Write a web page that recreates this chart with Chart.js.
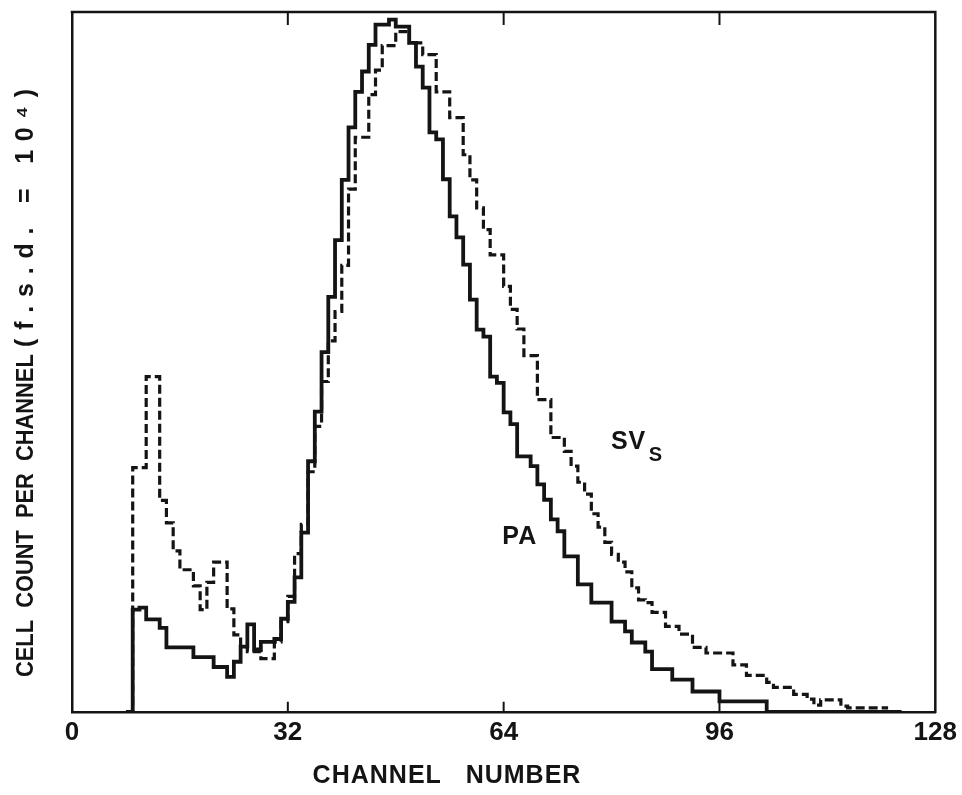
<!DOCTYPE html>
<html>
<head>
<meta charset="utf-8">
<script src="https://cdn.jsdelivr.net/npm/chart.js@4.4.1/dist/chart.umd.min.js"></script>
<style>
  html, body { margin: 0; padding: 0; background: #ffffff; }
  canvas { display: block; }
</style>
</head>
<body>
<canvas id="chart" width="962" height="795"></canvas>
<script>
// Channel of the first value in each count list (one value per channel).
const firstChannel = 8;

// Cell count per channel, PA population (solid histogram).
const paCounts = [
  0, 1460, 1490, 1320, 1320, 1200, 920, 920, 920, 920,          // 8-17
  780, 780, 780, 640, 640, 500, 715, 930, 1250, 890,            // 18-27
  1000, 1000, 1040, 1330, 1570, 1920, 2560, 3580, 4290, 5140,   // 28-37
  5930, 6740, 7600, 8350, 8860, 9150, 9530, 9820, 9820, 9890,   // 38-47
  9790, 9790, 9560, 9220, 8920, 8280, 8180, 7610, 7080, 6780,   // 48-57
  6390, 5890, 5460, 5360, 4790, 4700, 4280, 4110, 3650, 3650,   // 58-67
  3510, 3250, 3030, 2750, 2580, 2220, 2220, 1820, 1820, 1560,   // 68-77
  1560, 1560, 1290, 1290, 1150, 990, 990, 860, 610, 610,        // 78-87
  610, 460, 460, 460, 290, 290, 290, 290, 150, 150,             // 88-97
  150, 150, 150, 150, 150, 0, 0, 0, 0, 0,                       // 98-107
  0, 0, 0, 0, 0, 0, 0, 0, 0, 0,                                 // 108-117
  0, 0, 0, 0, 0                                                 // 118-122
];

// Cell count per channel, SVs population (dashed histogram).
const svCounts = [
  0, 3490, 3490, 4790, 4790, 3020, 2700, 2300, 2030, 2030,      // 8-17
  1800, 1460, 1850, 2140, 2140, 1470, 1100, 930, 860, 860,      // 18-27
  760, 760, 1000, 1290, 1650, 2260, 2680, 3430, 4080, 4720,     // 28-37
  5300, 5720, 6380, 7470, 8210, 8210, 8820, 9170, 9520, 9520,   // 38-47
  9720, 9720, 9560, 9560, 9390, 9390, 8860, 8860, 8490, 8490,   // 48-57
  7960, 7600, 7200, 6890, 6530, 6530, 6080, 5750, 5470, 5090,   // 58-67
  5090, 4460, 4460, 3920, 3920, 3720, 3510, 3280, 3110, 2830,   // 68-77
  2640, 2420, 2250, 2140, 2000, 1770, 1600, 1560, 1420, 1420,   // 78-87
  1220, 1220, 1110, 1110, 920, 920, 840, 840, 840, 840,         // 88-97
  670, 670, 520, 520, 520, 420, 350, 350, 350, 250,             // 98-107
  250, 180, 95, 170, 170, 170, 80, 55, 55, 55,                  // 108-117
  55, 55, 55                                                    // 118-120
];

// Channel axis labels and the full-scale deflection of the count axis.
const xTickValues = [0, 32, 64, 96, 128];
const fullScale = 10000;

const ink = '#141414';
const fontFamily = '"Liberation Sans", Arial, Helvetica, sans-serif';

// Each channel is a bin [n, n+1]; the closing point ends the last bin.
function binPoints(counts) {
  const pts = counts.map((v, i) => ({ x: firstChannel + i, y: v }));
  pts.push({ x: firstChannel + counts.length, y: counts[counts.length - 1] });
  return pts;
}

function drawText(ctx, text, x, y, o) {
  ctx.save();
  ctx.translate(x, y);
  if (o.rotate) ctx.rotate(o.rotate);
  ctx.scale(o.sx || 1, 1);
  ctx.font = 'bold ' + o.size + 'px ' + fontFamily;
  ctx.letterSpacing = (o.spacing || 0) + 'px';
  ctx.textAlign = o.align || 'left';
  ctx.textBaseline = 'alphabetic';
  ctx.fillStyle = ink;
  ctx.fillText(text, 0, 0);
  ctx.restore();
}

// Closes the frame, adds the inward tick marks and writes the labels.
const frameAndLabels = {
  id: 'frameAndLabels',
  afterDraw(chart) {
    const { ctx, chartArea: a, scales } = chart;
    const xs = scales.x, ys = scales.y;
    ctx.save();
    ctx.strokeStyle = ink;
    ctx.lineWidth = 2.5;
    ctx.lineCap = 'square';
    ctx.beginPath();
    ctx.moveTo(a.left, a.top);
    ctx.lineTo(a.right, a.top);
    ctx.lineTo(a.right, a.bottom);
    ctx.stroke();
    ctx.lineCap = 'butt';
    ctx.lineWidth = 2;
    ctx.beginPath();
    xTickValues.slice(1, -1).forEach(v => {
      const px = xs.getPixelForValue(v);
      ctx.moveTo(px, a.bottom);
      ctx.lineTo(px, a.bottom - 10);
      ctx.moveTo(px, a.top);
      ctx.lineTo(px, a.top + 13);
    });
    ctx.stroke();
    ctx.restore();

    // series names
    drawText(ctx, 'PA', xs.getPixelForValue(63.8), ys.getPixelForValue(2400), { size: 25, spacing: 1 });
    drawText(ctx, 'SV', xs.getPixelForValue(79.9), ys.getPixelForValue(3760), { size: 25, spacing: 1 });
    drawText(ctx, 'S', xs.getPixelForValue(85.5), ys.getPixelForValue(3590), { size: 20 });

    // axis titles
    drawText(ctx, 'CHANNEL   NUMBER', 447, 783, { size: 25, spacing: 1, align: 'center' });
    drawText(ctx, 'CELL  COUNT  PER  CHANNEL', 33, 677, { size: 24, sx: 0.91, rotate: -Math.PI / 2 });
    drawText(ctx, '(f.s.d. = 10\u2074)', 33, 347, { size: 25, spacing: 8.8, rotate: -Math.PI / 2 });
  }
};

new Chart(document.getElementById('chart'), {
  type: 'line',
  data: {
    datasets: [
      {
        label: 'SVs',
        data: binPoints(svCounts),
        stepped: 'before',
        borderColor: ink,
        borderWidth: 3.2,
        borderDash: [9, 4],
        borderJoinStyle: 'miter',
        pointRadius: 0,
        fill: false
      },
      {
        label: 'PA',
        data: binPoints(paCounts),
        stepped: 'before',
        borderColor: ink,
        borderWidth: 3.8,
        borderJoinStyle: 'miter',
        pointRadius: 0,
        fill: false
      }
    ]
  },
  options: {
    responsive: false,
    animation: false,
    devicePixelRatio: 1,
    layout: { padding: { left: 72, right: 25, top: 12, bottom: 42 } },
    plugins: { legend: { display: false }, tooltip: { enabled: false } },
    scales: {
      x: {
        type: 'linear',
        min: 0,
        max: 128,
        afterBuildTicks: s => { s.ticks = xTickValues.map(v => ({ value: v })); },
        ticks: {
          color: ink,
          padding: 5,
          maxRotation: 0,
          autoSkip: false,
          font: { family: fontFamily, size: 26, weight: 'bold' }
        },
        grid: { display: false, drawTicks: false },
        border: { display: true, color: ink, width: 2.5 }
      },
      y: {
        min: 0,
        max: fullScale,
        ticks: { display: false },
        grid: { display: false, drawTicks: false },
        border: { display: true, color: ink, width: 2.5 }
      }
    }
  },
  plugins: [frameAndLabels]
});
</script>
</body>
</html>
